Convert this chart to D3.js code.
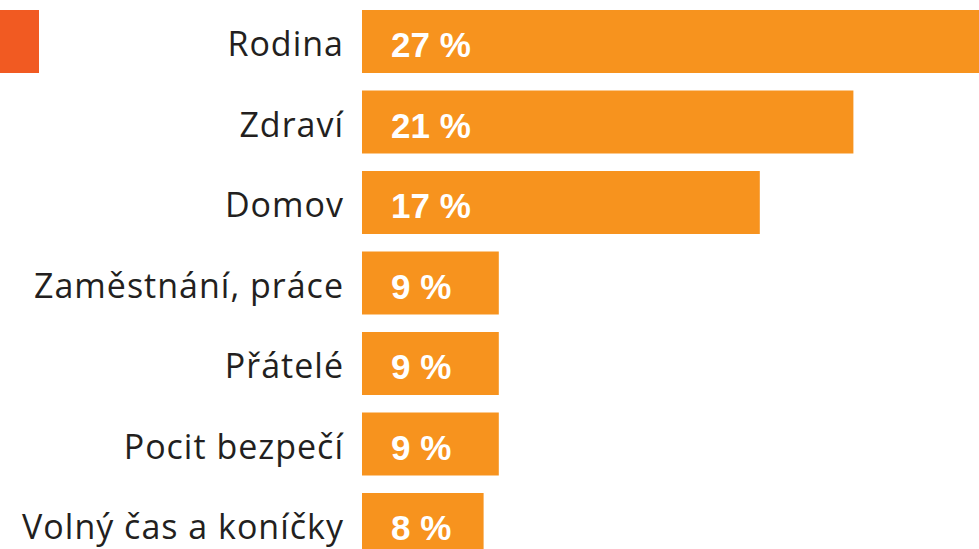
<!DOCTYPE html>
<html>
<head>
<meta charset="utf-8">
<script src="https://cdn.jsdelivr.net/npm/d3@7"></script>
<style>
  html, body { margin: 0; padding: 0; background: #fff; }
  svg { display: block; }
</style>
</head>
<body>
<svg id="chart"></svg>
<script>
// top group and lower group are drawn on different scales in the original
const topCategories = ['Rodina', 'Zdraví', 'Domov'];
const topValues = [27, 21, 17];
const restCategories = ['Zaměstnání, práce', 'Přátelé', 'Pocit bezpečí', 'Volný čas a koníčky'];
const restValues = [9, 9, 9, 8];

const categories = topCategories.concat(restCategories);

const w = 979;
const h = 549;
const x0 = 362;

const svg = d3.select('#chart')
  .attr('width', w)
  .attr('height', h)
  .style('overflow', 'hidden');

const xTop = d3.scaleLinear()
  .domain([0, 1])
  .range([0, 23.4]);
const xRest = d3.scaleLinear()
  .domain([0, 1])
  .range([0, 15.2]);

const yScale = d3.scaleBand()
  .domain(categories)
  .range([10, 10 + 6 * 80.5 + 63])
  .paddingInner(17.5 / 80.5)
  .paddingOuter(0);

const rows = categories.map((c, i) => ({
  cat: c,
  value: i < topValues.length ? topValues[i] : restValues[i - topValues.length],
  scale: i < topValues.length ? xTop : xRest
}));

// little corner marker
svg.append('rect')
  .attr('x', 0)
  .attr('y', yScale(categories[0]))
  .attr('width', 39)
  .attr('height', yScale.bandwidth())
  .attr('fill', '#f15a22');

svg.selectAll('.bar')
  .data(rows)
  .join('rect')
  .attr('class', 'bar')
  .attr('x', x0)
  .attr('y', d => yScale(d.cat))
  .attr('width', d => d.scale(d.value))
  .attr('height', yScale.bandwidth())
  .attr('fill', '#f7931e');

svg.selectAll('.cat')
  .data(rows)
  .join('text')
  .attr('class', 'cat')
  .attr('x', 344)
  .attr('y', d => yScale(d.cat) + yScale.bandwidth() / 2)
  .attr('dy', '0.43em')
  .attr('text-anchor', 'end')
  .style('font-family', '"Open Sans", "Noto Sans", sans-serif')
  .style('font-size', '34px')
  .style('letter-spacing', '1px')
  .attr('fill', '#231f20')
  .text(d => d.cat);

svg.selectAll('.val')
  .data(rows)
  .join('text')
  .attr('class', 'val')
  .attr('x', 391)
  .attr('y', d => yScale(d.cat) + yScale.bandwidth() / 2)
  .attr('dy', '0.45em')
  .style('font-family', '"Liberation Sans", Arial, sans-serif')
  .style('font-weight', 'bold')
  .style('font-size', '35px')
  .attr('fill', '#fff')
  .text(d => d.value + ' %');
</script>
</body>
</html>
